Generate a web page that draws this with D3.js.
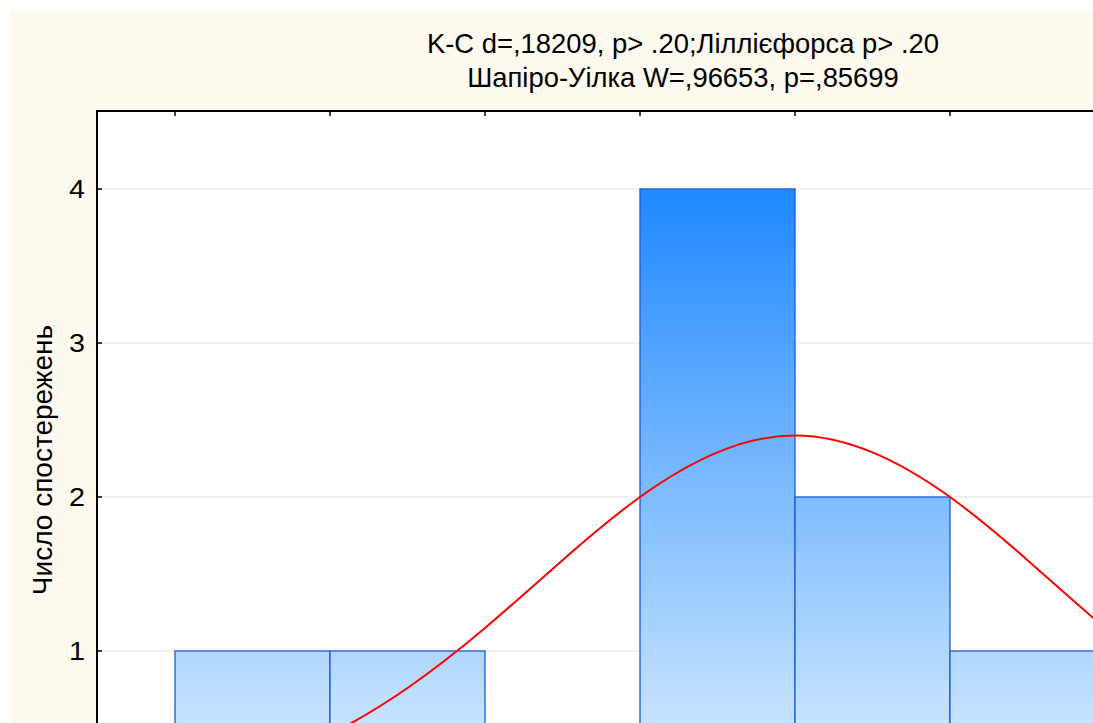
<!DOCTYPE html>
<html><head><meta charset="utf-8">
<script src="https://cdn.jsdelivr.net/npm/d3@7"></script>
<style>html,body{margin:0;padding:0;background:#fff;}svg{display:block;}</style>
</head><body>
<svg id="c" width="1093" height="723"></svg>
<script>
// ---- data ----
const titleLines = ["K-C d=,18209, p> .20;Ліллієфорса p> .20", "Шапіро-Уілка W=,96653, p=,85699"];
const yLabel = "Число спостережень";
const binStarts = [0, 1, 2, 3, 4, 5];          // bin index (lower edge)
const counts    = [1, 1, 0, 4, 2, 1];
const topTicks  = [0, 1, 2, 3, 4, 5, 6];
const yTicks    = [1, 2, 3, 4];
const curveX = [0.5, 1, 1.5, 2, 2.5, 3, 3.5, 4, 4.5, 5, 5.5, 6, 6.5];
const curveY = [0.25, 0.46, 0.76, 1.15, 1.59, 2.0, 2.29, 2.4, 2.29, 2.0, 1.59, 1.15, 0.76];

const svg = d3.select("#c");
const W = 1093, H = 723;
const plotL = 97, plotT = 111;
const FONT = "Liberation Sans, Arial, sans-serif";

const x = d3.scaleLinear().domain([0, 6]).range([175, 1105]);
const y = d3.scaleLinear().domain([0, 4]).range([805, 189]);

// backgrounds
svg.append("rect").attr("x", 0).attr("y", 0).attr("width", W).attr("height", H).attr("fill", "#ffffff");
svg.append("rect").attr("x", 10).attr("y", 10).attr("width", W).attr("height", H).attr("fill", "#FEF9EE");
svg.append("rect").attr("x", plotL).attr("y", plotT).attr("width", W).attr("height", H).attr("fill", "#ffffff");

const defs = svg.append("defs");
const grad = defs.append("linearGradient").attr("id", "barGrad")
  .attr("gradientUnits", "userSpaceOnUse")
  .attr("x1", 0).attr("x2", 0).attr("y1", y(4)).attr("y2", y(0));
grad.append("stop").attr("offset", 0).attr("stop-color", "#1E88FF");
grad.append("stop").attr("offset", 1).attr("stop-color", "#E0F1FF");
defs.append("clipPath").attr("id", "plotClip").append("rect")
  .attr("x", plotL).attr("y", plotT).attr("width", W).attr("height", H);

// grid
svg.append("g").selectAll("line").data(yTicks).join("line")
  .attr("x1", plotL).attr("x2", W).attr("y1", d => y(d)).attr("y2", d => y(d))
  .attr("stroke", "#E2E2E2").attr("stroke-width", 1.2);

// bars
const g = svg.append("g").attr("clip-path", "url(#plotClip)");
g.selectAll("rect.bar").data(binStarts.map((b, i) => ({b, c: counts[i]})).filter(d => d.c > 0)).join("rect")
  .attr("class", "bar")
  .attr("x", d => x(d.b)).attr("width", d => x(d.b + 1) - x(d.b))
  .attr("y", d => y(d.c)).attr("height", d => y(0) - y(d.c))
  .attr("fill", "url(#barGrad)").attr("stroke", "#1F5AD6").attr("stroke-width", 1.3);

// normal curve
const line = d3.line().x(d => x(d)).y((d, i) => y(curveY[i])).curve(d3.curveNatural);
g.append("path").attr("d", line(curveX)).attr("fill", "none")
  .attr("stroke", "#FF0000").attr("stroke-width", 2);

// frame
svg.append("line").attr("x1", plotL).attr("x2", plotL).attr("y1", plotT).attr("y2", H)
  .attr("stroke", "#000").attr("stroke-width", 2);
svg.append("line").attr("x1", plotL - 1).attr("x2", W).attr("y1", plotT).attr("y2", plotT)
  .attr("stroke", "#000").attr("stroke-width", 2);

// top ticks (inward)
svg.append("g").selectAll("line").data(topTicks).join("line")
  .attr("x1", d => x(d)).attr("x2", d => x(d)).attr("y1", plotT).attr("y2", plotT + 5)
  .attr("stroke", "#000").attr("stroke-width", 1.5);

// y ticks and labels
svg.append("g").selectAll("line").data(yTicks).join("line")
  .attr("x1", plotL).attr("x2", plotL + 5).attr("y1", d => y(d)).attr("y2", d => y(d))
  .attr("stroke", "#000").attr("stroke-width", 1.5);
svg.append("g").selectAll("text").data(yTicks).join("text")
  .attr("transform", d => `translate(85,${y(d)}) scale(1.15,1)`).attr("dy", "0.36em")
  .attr("text-anchor", "end").attr("font-family", FONT)
  .attr("font-size", 25).attr("fill", "#000").text(d => d);

// y label
svg.append("text").attr("transform", "translate(52,460) rotate(-90)")
  .attr("text-anchor", "middle")
  .attr("font-family", FONT).attr("font-size", 28)
  .attr("fill", "#000").text(yLabel);

// title
svg.append("g").selectAll("text").data(titleLines).join("text")
  .attr("x", 683).attr("y", (d, i) => 53 + i * 34)
  .attr("text-anchor", "middle").attr("font-family", FONT)
  .attr("font-size", 27.4).attr("fill", "#000").text(d => d);
</script>
</body></html>
